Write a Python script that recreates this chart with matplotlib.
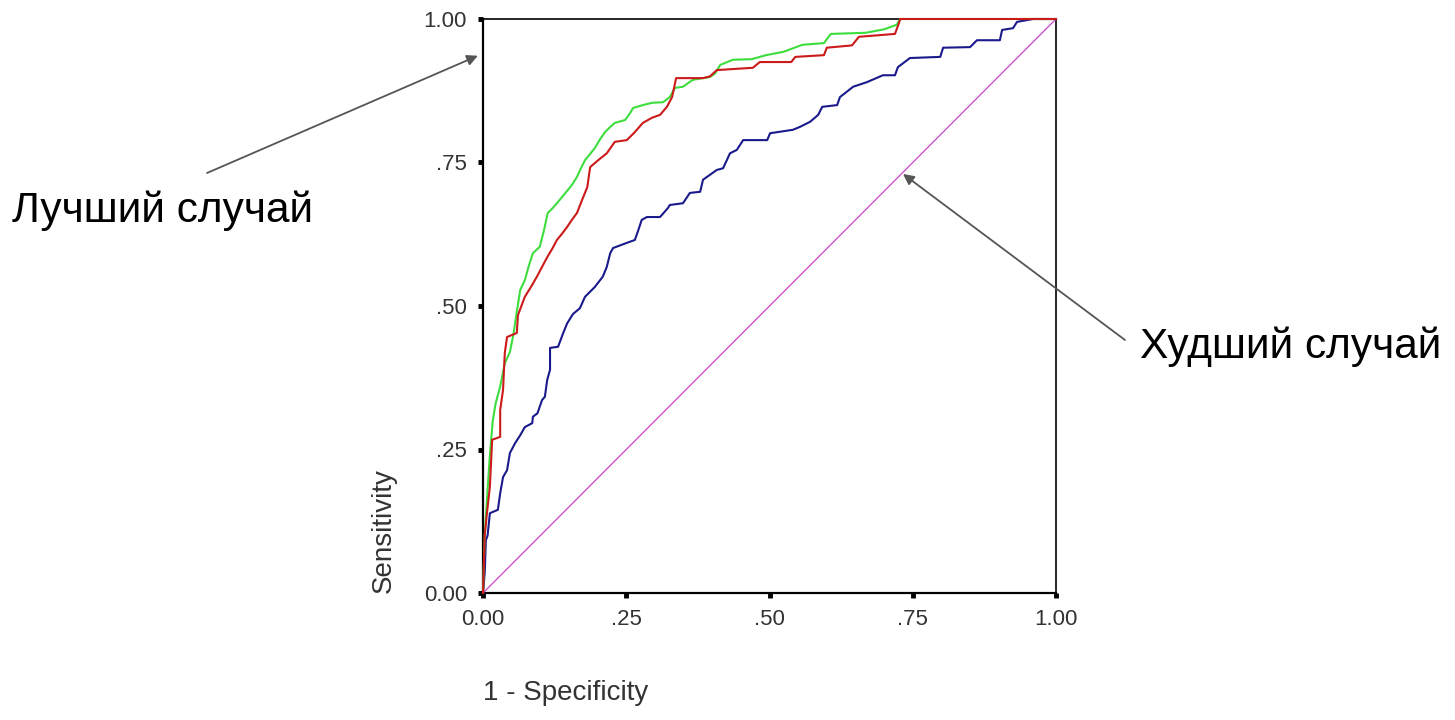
import matplotlib.pyplot as plt

plt.rcParams['font.family'] = ['Liberation Sans', 'DejaVu Sans']

# ROC curves (1 - specificity, sensitivity)
green_x = [0.0, 0.003, 0.008, 0.012, 0.017, 0.022, 0.030, 0.038, 0.047, 0.053, 0.059,
           0.065, 0.073, 0.080, 0.087, 0.099, 0.106, 0.113, 0.121, 0.129, 0.148, 0.156,
           0.164, 0.171, 0.178, 0.187, 0.195, 0.204, 0.213, 0.222, 0.230, 0.248, 0.256,
           0.262, 0.279, 0.295, 0.314, 0.326, 0.335, 0.349, 0.366, 0.396, 0.405, 0.414,
           0.436, 0.469, 0.494, 0.525, 0.557, 0.595, 0.607, 0.668, 0.700, 0.722, 0.728, 1.0]
green_y = [0.0, 0.10, 0.18, 0.24, 0.30, 0.33, 0.36, 0.40, 0.42, 0.45, 0.49,
           0.528, 0.545, 0.57, 0.592, 0.603, 0.63, 0.662, 0.670, 0.679, 0.702, 0.712,
           0.725, 0.740, 0.754, 0.765, 0.775, 0.790, 0.803, 0.812, 0.819, 0.824, 0.835,
           0.845, 0.850, 0.854, 0.855, 0.864, 0.880, 0.882, 0.894, 0.899, 0.905, 0.920,
           0.929, 0.930, 0.937, 0.943, 0.955, 0.958, 0.974, 0.976, 0.982, 0.990, 1.0, 1.0]

red_x = [0.0, 0.003, 0.007, 0.012, 0.016, 0.030, 0.030, 0.035, 0.038, 0.042, 0.059,
         0.061, 0.073, 0.083, 0.094, 0.103, 0.112, 0.121, 0.129, 0.138, 0.147, 0.155,
         0.164, 0.173, 0.182, 0.187, 0.201, 0.216, 0.230, 0.251, 0.265, 0.279, 0.295,
         0.309, 0.321, 0.330, 0.337, 0.384, 0.396, 0.408, 0.471, 0.483, 0.538, 0.545,
         0.595, 0.600, 0.644, 0.656, 0.719, 0.726, 0.728, 1.0]
red_y = [0.0, 0.10, 0.14, 0.185, 0.267, 0.272, 0.319, 0.354, 0.418, 0.446, 0.453,
         0.484, 0.516, 0.532, 0.551, 0.568, 0.585, 0.600, 0.615, 0.626, 0.638, 0.650,
         0.662, 0.685, 0.707, 0.742, 0.754, 0.766, 0.786, 0.789, 0.803, 0.819, 0.828,
         0.833, 0.847, 0.864, 0.897, 0.897, 0.900, 0.911, 0.915, 0.925, 0.925, 0.934,
         0.937, 0.950, 0.954, 0.969, 0.974, 0.993, 1.0, 1.0]

blue_x = [0.0, 0.003, 0.005, 0.008, 0.012, 0.026, 0.030, 0.035, 0.042, 0.047, 0.056,
          0.065, 0.073, 0.086, 0.087, 0.095, 0.103, 0.108, 0.112, 0.117, 0.117, 0.131,
          0.140, 0.147, 0.157, 0.169, 0.178, 0.195, 0.209, 0.216, 0.222, 0.227, 0.251,
          0.265, 0.271, 0.277, 0.286, 0.309, 0.323, 0.326, 0.349, 0.361, 0.379, 0.384,
          0.408, 0.419, 0.431, 0.443, 0.454, 0.496, 0.501, 0.541, 0.553, 0.571, 0.585,
          0.592, 0.618, 0.623, 0.646, 0.670, 0.698, 0.719, 0.724, 0.745, 0.798, 0.803,
          0.850, 0.862, 0.902, 0.906, 0.925, 0.932, 0.960, 1.0]
blue_y = [0.0, 0.035, 0.092, 0.100, 0.139, 0.145, 0.174, 0.202, 0.214, 0.244, 0.261,
          0.275, 0.289, 0.296, 0.307, 0.313, 0.336, 0.342, 0.371, 0.389, 0.427, 0.429,
          0.453, 0.470, 0.486, 0.496, 0.516, 0.533, 0.551, 0.568, 0.592, 0.601, 0.610,
          0.615, 0.632, 0.650, 0.655, 0.655, 0.671, 0.676, 0.679, 0.697, 0.699, 0.720,
          0.737, 0.740, 0.766, 0.772, 0.789, 0.789, 0.801, 0.807, 0.812, 0.821, 0.833,
          0.847, 0.850, 0.864, 0.882, 0.890, 0.902, 0.902, 0.916, 0.932, 0.934, 0.950,
          0.951, 0.963, 0.963, 0.981, 0.984, 0.995, 1.0, 1.0]

ref_x = [0.0, 1.0]
ref_y = [0.0, 1.0]

ticks = [0.0, 0.25, 0.5, 0.75, 1.0]
tick_labels = ['0.00', '.25', '.50', '.75', '1.00']

fig = plt.figure(figsize=(14.55, 7.2), dpi=100)
ax = fig.add_axes([483 / 1455, 127 / 720, 573 / 1455, 574 / 720])

ax.plot(ref_x, ref_y, color='#cc44cc', lw=0.9, zorder=3)
ax.plot(blue_x, blue_y, color='#1a1a8c', lw=1.5, zorder=4, clip_on=False)
ax.plot(green_x, green_y, color='#3ddd3d', lw=1.5, zorder=5, clip_on=False)
ax.plot(red_x, red_y, color='#cc1a1a', lw=1.5, zorder=6, clip_on=False)

ax.set_xlim(0, 1)
ax.set_ylim(0, 1)
ax.set_xticks(ticks)
ax.set_xticklabels(tick_labels)
ax.set_yticks(ticks)
ax.set_yticklabels(tick_labels)
ax.tick_params(direction='out', length=3.5, width=3.5, pad=8,
               labelsize=16, labelcolor='#333333', color='black')

for side in ['left', 'bottom']:
    ax.spines[side].set_linewidth(1.6)
for side in ['top', 'right']:
    ax.spines[side].set_linewidth(1.2)

ax.set_xlabel('1 - Specificity', fontsize=20, color='#333333', loc='left')
ax.xaxis.set_label_coords(0.0, -0.152)
ax.set_ylabel('Sensitivity', fontsize=20, color='#333333', loc='bottom')
ax.yaxis.set_label_coords(-0.15, 0.0)

# annotations
fig.text(12 / 1455, (720 - 222) / 720, 'Лучший случай', fontsize=30.5,
         va='baseline', ha='left', color='black')
fig.text(1140 / 1455, (720 - 358) / 720, 'Худший случай', fontsize=30.5,
         va='baseline', ha='left', color='black')

arrow = dict(arrowstyle='-|>', color='#555555', lw=1.3, mutation_scale=16,
             shrinkA=0, shrinkB=0)
ax.annotate('', xy=(-0.009, 0.936), xycoords='data',
            xytext=(207, 720 - 173), textcoords='figure pixels',
            arrowprops=arrow, annotation_clip=False)
ax.annotate('', xy=(0.733, 0.730), xycoords='data',
            xytext=(1125, 720 - 340), textcoords='figure pixels',
            arrowprops=arrow, annotation_clip=False)

fig.savefig('out.png', dpi=100)
